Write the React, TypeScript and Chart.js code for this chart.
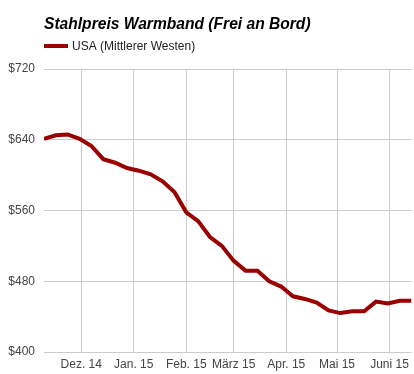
import React, { useEffect, useRef } from "react";
import { Chart, registerables } from "chart.js";

Chart.register(...registerables);

const TITLE = "Stahlpreis Warmband (Frei an Bord)";
const SERIES_NAME = "USA (Mittlerer Westen)";

const weekDates = [
  "2014-11-09", "2014-11-16", "2014-11-23", "2014-11-30", "2014-12-07", "2014-12-14",
  "2014-12-21", "2014-12-28", "2015-01-04", "2015-01-11", "2015-01-18", "2015-01-25",
  "2015-02-01", "2015-02-08", "2015-02-15", "2015-02-22", "2015-03-01", "2015-03-08",
  "2015-03-15", "2015-03-22", "2015-03-29", "2015-04-05", "2015-04-12", "2015-04-19",
  "2015-04-26", "2015-05-03", "2015-05-10", "2015-05-17", "2015-05-24", "2015-05-31",
  "2015-06-07", "2015-06-14",
];

const prices = [
  641, 645, 646, 641, 633, 618, 614, 608, 605, 601, 593, 581,
  558, 548, 530, 520, 503, 492, 492, 480, 474, 463, 460, 456,
  447, 444, 446, 446, 457, 455, 458, 458,
];

const monthTickDates = [
  "2014-12-01", "2015-01-01", "2015-02-01", "2015-03-01", "2015-04-01", "2015-05-01", "2015-06-01",
];
const monthTickLabels = ["Dez. 14", "Jan. 15", "Feb. 15", "März 15", "Apr. 15", "Mai 15", "Juni 15"];

const yTicks = [400, 480, 560, 640, 720];

const BASE = Date.UTC(2014, 11, 1);
const toDay = (s: string) => {
  const [y, m, d] = s.split("-").map(Number);
  return Math.round((Date.UTC(y, m - 1, d) - BASE) / 86400000);
};

const FONT = "'Liberation Sans', Arial, sans-serif";
const LINE_COLOR = "#990000";

export default function App() {
  const ref = useRef<HTMLCanvasElement | null>(null);

  useEffect(() => {
    if (!ref.current) return;
    const monthDays = monthTickDates.map(toDay);
    const points = weekDates.map((d, i) => ({ x: toDay(d), y: prices[i] }));

    const headerPlugin = {
      id: "header",
      afterDraw(chart: any) {
        const { ctx, chartArea } = chart;
        ctx.save();
        ctx.fillStyle = "#000";
        ctx.font = `italic bold 15.6px ${FONT}`;
        ctx.textBaseline = "alphabetic";
        ctx.textAlign = "left";
        ctx.fillText(TITLE, chartArea.left, 29);
        ctx.strokeStyle = LINE_COLOR;
        ctx.lineWidth = 4;
        ctx.beginPath();
        ctx.moveTo(chartArea.left, 46);
        ctx.lineTo(chartArea.left + 24, 46);
        ctx.stroke();
        ctx.fillStyle = "#222";
        ctx.font = `12px ${FONT}`;
        ctx.fillText(SERIES_NAME, chartArea.left + 28, 50);
        ctx.restore();
      },
    };

    const chart = new Chart(ref.current, {
      type: "line",
      data: {
        datasets: [
          {
            label: SERIES_NAME,
            data: points,
            borderColor: LINE_COLOR,
            borderWidth: 4,
            pointRadius: 0,
            tension: 0,
            fill: false,
          },
        ],
      },
      options: {
        animation: false,
        responsive: false,
        layout: { padding: { top: 69, right: 2, left: 0, bottom: 0 } },
        plugins: {
          legend: { display: false },
          title: { display: false },
          tooltip: { enabled: false },
        },
        scales: {
          x: {
            type: "linear",
            min: toDay(weekDates[0]),
            max: toDay(weekDates[weekDates.length - 1]),
            afterBuildTicks: (scale: any) => {
              scale.ticks = monthDays.map((v) => ({ value: v }));
            },
            afterFit: (scale: any) => {
              scale.height = 22;
            },
            grid: { color: "#cccccc", drawTicks: false, lineWidth: 1 },
            border: { display: false },
            ticks: {
              autoSkip: false,
              maxRotation: 0,
              padding: 5,
              color: "#444",
              font: { family: FONT, size: 12 },
              callback: (v: any) => {
                const i = monthDays.indexOf(Number(v));
                return i >= 0 ? monthTickLabels[i] : "";
              },
            },
          },
          y: {
            min: yTicks[0],
            max: yTicks[yTicks.length - 1],
            afterBuildTicks: (scale: any) => {
              scale.ticks = yTicks.map((v) => ({ value: v }));
            },
            afterFit: (scale: any) => {
              scale.width = 44;
            },
            grid: { color: "#cccccc", drawTicks: false, lineWidth: 1 },
            border: { display: false },
            ticks: {
              padding: 9,
              color: "#444",
              font: { family: FONT, size: 12 },
              callback: (v: any) => "$" + v,
            },
          },
        },
      },
      plugins: [headerPlugin],
    } as any);

    return () => chart.destroy();
  }, []);

  return (
    <div style={{ position: "absolute", left: 0, top: 0, width: 414, height: 374, background: "#fff" }}>
      <canvas ref={ref} width={414} height={374} style={{ display: "block" }} />
    </div>
  );
}
